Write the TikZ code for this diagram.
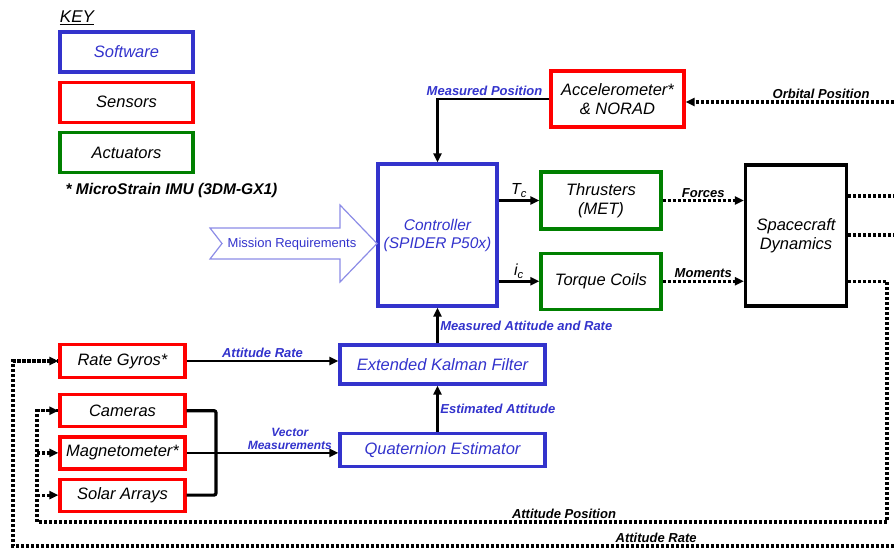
\documentclass[tikz,border=0pt]{standalone}
\usepackage{fontspec}
\setmainfont{Liberation Sans}
\usetikzlibrary{arrows.meta,positioning}
\definecolor{swblue}{RGB}{51,51,204}
\definecolor{snred}{RGB}{255,0,0}
\definecolor{acgreen}{RGB}{0,128,0}
\definecolor{reqblue}{RGB}{140,140,230}

\begin{document}
\begin{tikzpicture}[x=1pt, y=-1pt,
  blk/.style={draw, line width=3.2pt, inner sep=0pt, align=center,
              font=\fontsize{16.5}{19}\selectfont\itshape},
  sw/.style={blk, draw=swblue, text=swblue},
  sens/.style={blk, draw=snred},
  act/.style={blk, draw=acgreen},
  arr/.style={-{Triangle[length=9pt,width=8pt]}, line width=2.8pt},
  fb/.style={line width=3.2pt, dash pattern=on 3pt off 2pt},
  fbarr/.style={fb, -{Triangle[length=9pt,width=8pt]}},
  lbl/.style={font=\fontsize{13}{14.5}\selectfont\bfseries\itshape, inner sep=1.5pt},
  blbl/.style={lbl, text=swblue}
]
  \useasboundingbox (0,0) rectangle (894,550);

  \node[font=\fontsize{17}{19}\selectfont\itshape] (key) at (77,18) {\underline{KEY}};
  \node[sw, minimum width=133pt, minimum height=40pt] (ksw) at (126.5,52) {Software};
  \node[sens, minimum width=133pt, minimum height=40pt, below=7pt of ksw] (ksn) {Sensors};
  \node[act, minimum width=133pt, minimum height=40pt, below=7pt of ksn] (kac) {Actuators};
  \node[font=\fontsize{15.5}{17}\selectfont\bfseries\itshape, anchor=west] (note) at (62,190) {* MicroStrain IMU (3DM-GX1)};

  \node[sw, minimum width=119pt, minimum height=142pt, font=\fontsize{15.5}{18}\selectfont\itshape] (ctrl) at (437.5,235) {Controller\\(SPIDER P50x)};
  \node[sens, minimum width=133pt, minimum height=56pt] (acc) at (617.5,99) {Accelerometer*\\\& NORAD};
  \node[act, minimum width=120pt, minimum height=57pt] (thr) at (601,200.5) {Thrusters\\(MET)};
  \node[act, minimum width=120pt, minimum height=56pt, below=21pt of thr] (tc) {Torque Coils};
  \node[blk, minimum width=101pt, minimum height=141pt] (sd) at (796,235.5) {Spacecraft\\Dynamics};
  \node[sw, minimum width=205pt, minimum height=39pt] (ekf) at (442.5,364.5) {Extended Kalman Filter};
  \node[sw, minimum width=205pt, minimum height=33pt, below=46pt of ekf] (qe) {Quaternion Estimator};

  \node[sens, minimum width=125pt, minimum height=33pt] (rg) at (122.5,361) {Rate Gyros*};
  \node[sens, minimum width=125pt, minimum height=32pt, below=14pt of rg] (cam) {Cameras};
  \node[sens, minimum width=125pt, minimum height=32pt, below=7pt of cam] (mag) {Magnetometer*};
  \node[sens, minimum width=125pt, minimum height=32pt, below=7pt of mag] (sol) {Solar Arrays};

  \draw[reqblue, line width=1.2pt] (210,228) -- (340,228) -- (340,205) -- (377,243.5)
    -- (340,282) -- (340,259) -- (210,259) -- (222,243.5) -- cycle;
  \node[font=\fontsize{13}{15}\selectfont, text=swblue] (req) at (292,244) {Mission Requirements};

  \coordinate (orb) at (894,102);
  \coordinate (o1) at (894,196);
  \coordinate (o2) at (894,235);
  \coordinate (apR) at (887,522);
  \coordinate (apL) at (37,522);
  \coordinate (arR) at (894,546);
  \coordinate (arL) at (13,546);
  \coordinate (vm) at (216,446);

  \draw[arr] (acc.west) -| node[pos=0.29, above, blbl] {Measured Position} (ctrl.north);
  \draw[arr] (ctrl.east |- thr.west) -- node[above, lbl, font=\fontsize{16}{18}\selectfont\itshape] {T\textsubscript{c}} (thr.west);
  \draw[arr] (ctrl.east |- tc.west) -- node[above, lbl, font=\fontsize{16}{18}\selectfont\itshape] {i\textsubscript{c}} (tc.west);
  \draw[fbarr] (thr.east) -- node[above, lbl] {Forces} (sd.west |- thr.east);
  \draw[fbarr] (tc.east) -- node[above, lbl] {Moments} (sd.west |- tc.east);
  \draw[fbarr] (orb) -- node[pos=0.35, above, lbl] {Orbital Position} (acc.east |- orb);
  \draw[fb] (sd.east |- o1) -- (o1);
  \draw[fb] (sd.east |- o2) -- (o2);

  \draw[fb] (sd.east |- tc.east) -| (apR) -- node[pos=0.38, above, lbl] {Attitude Position} (apL) |- (cam.west);
  \draw[fbarr] (apL |- cam.west) -- (cam.west);
  \draw[fbarr] (apL |- mag.west) -- (mag.west);
  \draw[fbarr] (apL |- sol.west) -- (sol.west);
  \draw[fb] (arR) -- node[pos=0.27, above, lbl] {Attitude Rate} (arL) |- (rg.west);
  \draw[fbarr] (arL |- rg.west) -- (rg.west);

  \draw[arr] (rg.east) -- node[above, blbl] {Attitude Rate} (ekf.west |- rg.east);
  \draw[line width=3.2pt, rounded corners=2pt] (cam.east) -| (vm |- sol.east) -- (sol.east);
  \draw[arr] (mag.east) -- node[pos=0.68, above, blbl, align=center, font=\fontsize{12}{13.5}\selectfont\bfseries\itshape] {Vector\\Measurements} (qe.west |- mag.east);
  \draw[arr] (qe.north -| ctrl.south) -- node[right, blbl] {Estimated Attitude} (ekf.south -| ctrl.south);
  \draw[arr] (ekf.north -| ctrl.south) -- node[right, blbl] {Measured Attitude and Rate} (ctrl.south);
\end{tikzpicture}
\end{document}
